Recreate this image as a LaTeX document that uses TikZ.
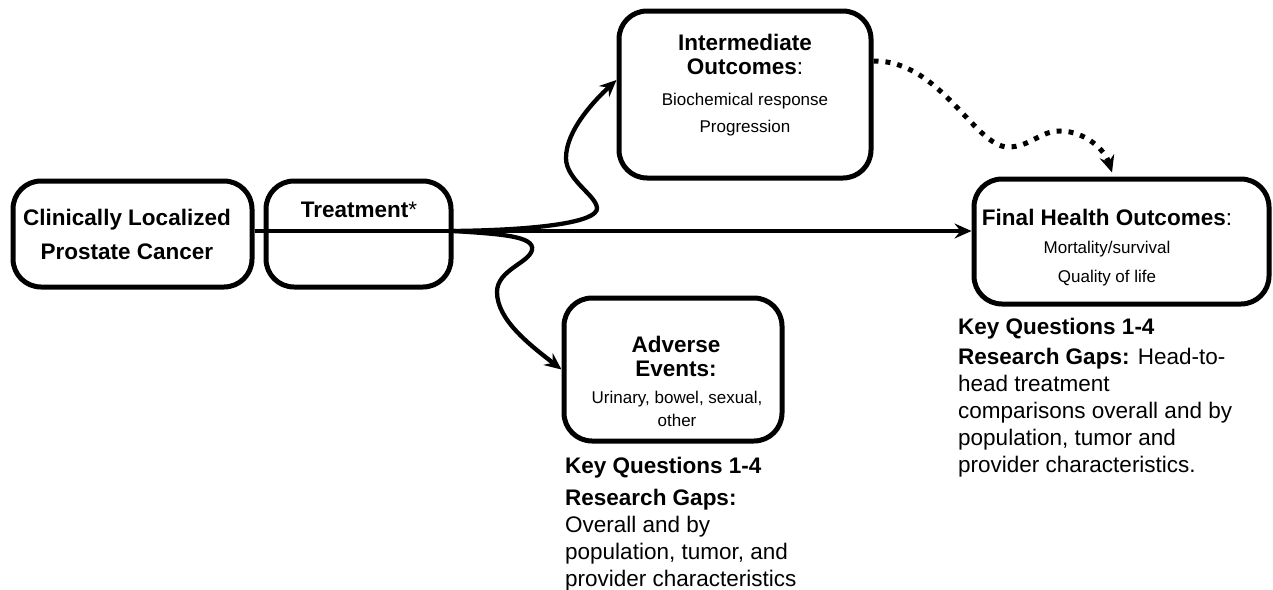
\documentclass[tikz,border=0pt]{standalone}
\usepackage{fontspec}
\setmainfont{Liberation Sans}
\usetikzlibrary{arrows.meta}
\begin{document}
\begin{tikzpicture}[x=1pt,y=-1pt,
  box/.style={draw, line width=5pt, rounded corners=28pt, inner sep=0pt},
  tip/.style={-{Stealth[length=17pt,width=15pt,inset=6pt]}},
  conn/.style={tip, line width=4.3pt},
  dots/.style={tip, line width=5pt, dash pattern=on 5pt off 7pt},
  lbl/.style={font=\fontsize{22.5}{24}\selectfont\bfseries, align=center, anchor=base, inner sep=0pt},
  small/.style={font=\fontsize{17}{27}\selectfont, align=center, anchor=base, inner sep=0pt},
  note/.style={font=\fontsize{22.5}{27}\selectfont, align=left, anchor=base west, inner sep=0pt}
]
\useasboundingbox (0,0) rectangle (1273,589);

% boxes
\node[box, minimum width=239pt, minimum height=106pt] (clin)  at (132.5,234) {};
\node[box, minimum width=185pt, minimum height=106pt] (treat) at (358.5,234) {};
\node[box, minimum width=252pt, minimum height=167pt] (intm)  at (745,94.5) {};
\node[box, minimum width=295pt, minimum height=125pt] (final) at (1121.5,241.5) {};
\node[box, minimum width=218pt, minimum height=143pt] (adv)   at (673,369.5) {};

% box texts (the base anchor of a multi-line node sits on its last line)
\node[lbl, font=\fontsize{22.5}{34}\selectfont\bfseries] (clinT) at (127,259) {Clinically Localized\\Prostate Cancer};
\node[lbl] (treatT) at (359,217) {Treatment{\mdseries*}};
\node[lbl] (intmT) at (745,74) {Intermediate\\Outcomes{\mdseries:}};
\node[small] (intmI) at (745,132) {Biochemical response\\Progression};
\node[lbl] (finalT) at (1107,225) {Final Health Outcomes{\mdseries:}};
\node[small, font=\fontsize{17}{29}\selectfont] (finalI) at (1107,282) {Mortality/survival\\Quality of life};
\node[lbl] (advT) at (676,376) {Adverse\\Events:};
\node[small, font=\fontsize{17}{23}\selectfont] (advI) at (677,426) {Urinary, bowel, sexual,\\other};

% notes under the outcome boxes
\node[note] (advK) at (565,473) {\textbf{Key Questions 1-4}};
\node[note, font=\fontsize{22.5}{26.7}\selectfont] (advG) at (565,586) {\textbf{Research Gaps:}\\Overall and by\\population, tumor, and\\provider characteristics};
\node[note] (finK) at (958,334) {\textbf{Key Questions 1-4}};
\node[note] (finG) at (958,472) {\textbf{Research Gaps:} Head-to-\\head treatment\\comparisons overall and by\\population, tumor and\\provider characteristics.};

% connectors
\coordinate (mainL) at ([yshift=3pt]clin.east);
\coordinate (mainT) at ([yshift=3pt]treat.east);
\draw[conn] (mainL) -- (mainL -| final.west);
\draw[conn] (mainT) .. controls (540,230) and (598,222) .. (597,208)
  .. controls (596,195) and (566,180) .. (566,158)
  .. controls (566,130) and (595,100) .. ([yshift=14.5pt]intm.west);
\draw[conn] (mainT) .. controls (500,234) and (535,236) .. (532,250)
  .. controls (529,263) and (497,270) .. (497,292)
  .. controls (497,320) and (530,345) .. (adv.west);
\coordinate (dotS) at ([yshift=33.5pt]intm.east);
\draw[dots] (dotS) .. controls (940,60) and (975,147) .. (1008,147)
  .. controls (1030,147) and (1040,131) .. (1060,131)
  .. controls (1085,131) and (1105,150) .. ([shift={(-9.5pt,4pt)}]final.north);
\end{tikzpicture}
\end{document}
